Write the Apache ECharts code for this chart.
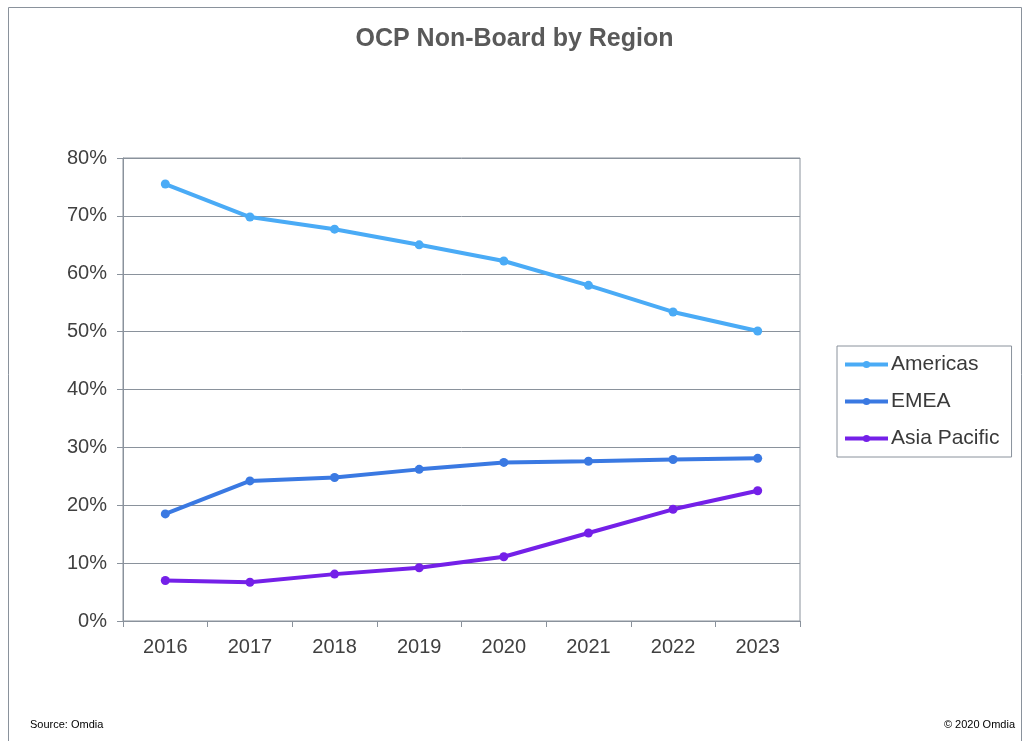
<!DOCTYPE html>
<html><head><meta charset="utf-8">
<script src="https://cdn.jsdelivr.net/npm/echarts@6/dist/echarts.min.js"></script>
<style>html,body{margin:0;padding:0;background:#fff}#c{width:1029px;height:741px}</style>
</head><body><div id="c"></div>
<script>
var categories = ['2016','2017','2018','2019','2020','2021','2022','2023'];
var americas = [75.5, 69.8, 67.7, 65.0, 62.2, 58.0, 53.4, 50.1];
var emea = [18.5, 24.2, 24.8, 26.2, 27.4, 27.6, 27.9, 28.1];
var asiaPacific = [7.0, 6.7, 8.1, 9.2, 11.1, 15.2, 19.3, 22.5];
var seriesNames = ['Americas', 'EMEA', 'Asia Pacific'];
var colors = ['#4aabf6', '#3a79e2', '#7420e8'];

var chart = echarts.init(document.getElementById('c'), null, {renderer: 'canvas'});
var FONT = '"Liberation Sans", Arial, sans-serif';
function mk(name, data, color) {
  return {
    name: name, type: 'line', data: data,
    symbol: 'circle', symbolSize: 9,
    itemStyle: {color: color},
    lineStyle: {color: color, width: 4},
    emphasis: {disabled: true},
    animation: false
  };
}
chart.setOption({
  animation: false,
  textStyle: {fontFamily: FONT},
  title: {
    text: 'OCP Non-Board by Region', left: 'center', top: 22,
    textStyle: {fontFamily: FONT, fontSize: 25, fontWeight: 'bold', color: '#595959'}
  },
  legend: {
    orient: 'vertical', left: 837, top: 346,
    padding: [8, 12, 8, 6],
    borderColor: '#8a929c', borderWidth: 1,
    itemWidth: 43, itemHeight: 9, itemGap: 16,
    lineStyle: {width: 4},
    textStyle: {fontFamily: FONT, fontSize: 21, color: '#3a3a3a', padding: [0,0,0,-2]},
    data: seriesNames
  },
  grid: {
    left: 123, top: 158, width: 677, height: 463,
    show: true, borderColor: '#8a929c', borderWidth: 1, backgroundColor: 'transparent'
  },
  xAxis: {
    type: 'category', data: categories, boundaryGap: true,
    axisLine: {lineStyle: {color: '#8a929c', width: 1}},
    axisTick: {show: true, length: 6, lineStyle: {color: '#8a929c'}},
    axisLabel: {fontFamily: FONT, fontSize: 20, color: '#404040', margin: 16}
  },
  yAxis: {
    type: 'value', min: 0, max: 80, interval: 10,
    axisLine: {show: true, lineStyle: {color: '#8a929c', width: 1}},
    axisTick: {show: true, length: 6, lineStyle: {color: '#8a929c'}},
    splitLine: {lineStyle: {color: '#8a929c', width: 1}},
    axisLabel: {fontFamily: FONT, fontSize: 20, color: '#404040', margin: 16, formatter: '{value}%'}
  },
  graphic: [
    {type: 'rect', shape: {x: 8.5, y: 7.5, width: 1013, height: 760}, style: {fill: 'none', stroke: '#8a929c', lineWidth: 1}, silent: true},
    {type: 'text', left: 30, top: 719, style: {text: 'Source: Omdia', font: '11px ' + FONT, fill: '#000'}},
    {type: 'text', right: 14, top: 719, style: {text: '\u00a9 2020 Omdia', font: '11px ' + FONT, fill: '#000'}}
  ],
  series: [
    mk(seriesNames[0], americas, colors[0]),
    mk(seriesNames[1], emea, colors[1]),
    mk(seriesNames[2], asiaPacific, colors[2])
  ]
});
</script></body></html>
